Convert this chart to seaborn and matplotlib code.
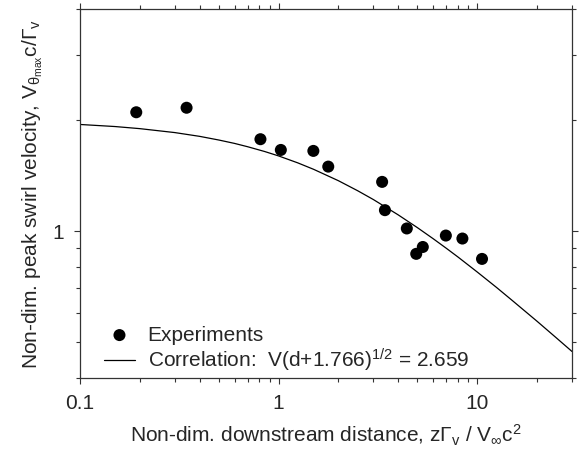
import matplotlib
matplotlib.use("Agg")
import matplotlib.pyplot as plt
from matplotlib.ticker import LogLocator, NullFormatter, FixedLocator, FixedFormatter
import seaborn as sns
import pandas as pd

exp_distance = [0.192, 0.344, 0.81, 1.026, 1.496, 1.778, 3.32, 3.43, 4.42, 4.93, 5.32, 6.95, 8.42, 10.57]
exp_velocity = [2.10, 2.16, 1.775, 1.66, 1.65, 1.496, 1.36, 1.14, 1.017, 0.868, 0.906, 0.973, 0.955, 0.841]

# correlation curve, sampled along the drawn line
corr_distance = [0.1, 0.15, 0.2, 0.3, 0.4, 0.5, 0.6, 0.7, 0.85, 1.0, 1.25, 1.5, 2.0, 2.5, 3.0,
                 4.0, 5.0, 6.0, 7.0, 8.0, 10.0, 12.5, 15.0, 20.0, 25.0, 30.0]
corr_velocity = [1.946, 1.921, 1.896, 1.850, 1.807, 1.766, 1.729, 1.693, 1.644, 1.599, 1.531, 1.471,
                 1.370, 1.287, 1.218, 1.107, 1.022, 0.954, 0.898, 0.851, 0.775, 0.704, 0.649,
                 0.570, 0.514, 0.472]

x_ticks = [0.1, 1, 10]
x_tick_labels = ["0.1", "1", "10"]
y_ticks = [1]
y_tick_labels = ["1"]

exp_df = pd.DataFrame({"distance": exp_distance, "velocity": exp_velocity})
corr_df = pd.DataFrame({"distance": corr_distance, "velocity": corr_velocity})

sns.set_style("ticks")
plt.rcParams["font.family"] = ["Liberation Sans", "DejaVu Sans"]
plt.rcParams["mathtext.fontset"] = "custom"
plt.rcParams["mathtext.rm"] = "Liberation Sans"
plt.rcParams["mathtext.it"] = "Liberation Sans"
plt.rcParams["mathtext.default"] = "regular"

fig = plt.figure(figsize=(5.8, 4.5), dpi=100)
ax = fig.add_axes([80 / 580, 1 - 378 / 450, 492 / 580, 369 / 450])

sns.lineplot(corr_df, x="distance", y="velocity", color="black", linewidth=0.9,
             label=r"Correlation:  V(d+1.766)$^{1/2}$ = 2.659", ax=ax)
sns.scatterplot(exp_df, x="distance", y="velocity", color="black", s=75, edgecolor="none",
                label="Experiments", ax=ax, zorder=3)

ax.set_xscale("log")
ax.set_yscale("log")
ax.set_xlim(0.1, 30)
ax.set_ylim(0.4, 4)

ax.xaxis.set_major_locator(FixedLocator(x_ticks))
ax.xaxis.set_major_formatter(FixedFormatter(x_tick_labels))
ax.xaxis.set_minor_locator(LogLocator(base=10.0, subs=range(2, 10), numticks=20))
ax.xaxis.set_minor_formatter(NullFormatter())
ax.yaxis.set_major_locator(FixedLocator(y_ticks))
ax.yaxis.set_major_formatter(FixedFormatter(y_tick_labels))
ax.yaxis.set_minor_locator(LogLocator(base=10.0, subs=range(2, 10), numticks=20))
ax.yaxis.set_minor_formatter(NullFormatter())

ax.tick_params(which="both", direction="out", top=True, right=True, color="#333333", width=0.8)
ax.tick_params(which="major", length=4.5, labelsize=15, pad=7)
ax.tick_params(which="minor", length=2.8)
for spine in ax.spines.values():
    spine.set_color("#333333")
    spine.set_linewidth(0.9)

ax.set_xlabel(r"Non-dim. downstream distance, z$\Gamma_v$ / V$_\infty$c$^2$", fontsize=15, labelpad=7)
ax.set_ylabel(r"Non-dim. peak swirl velocity, V$_{\theta_{max}}$c/$\Gamma_v$", fontsize=15, labelpad=5)

handles, labels = ax.get_legend_handles_labels()
ax.legend(handles[::-1], labels[::-1], loc="lower left", bbox_to_anchor=(0.04, 0.0),
          frameon=False, fontsize=15, handlelength=1.5, handletextpad=0.6,
          labelspacing=0.1, borderpad=0.2, borderaxespad=0)

fig.savefig("out.png", dpi=100)
plt.close(fig)
